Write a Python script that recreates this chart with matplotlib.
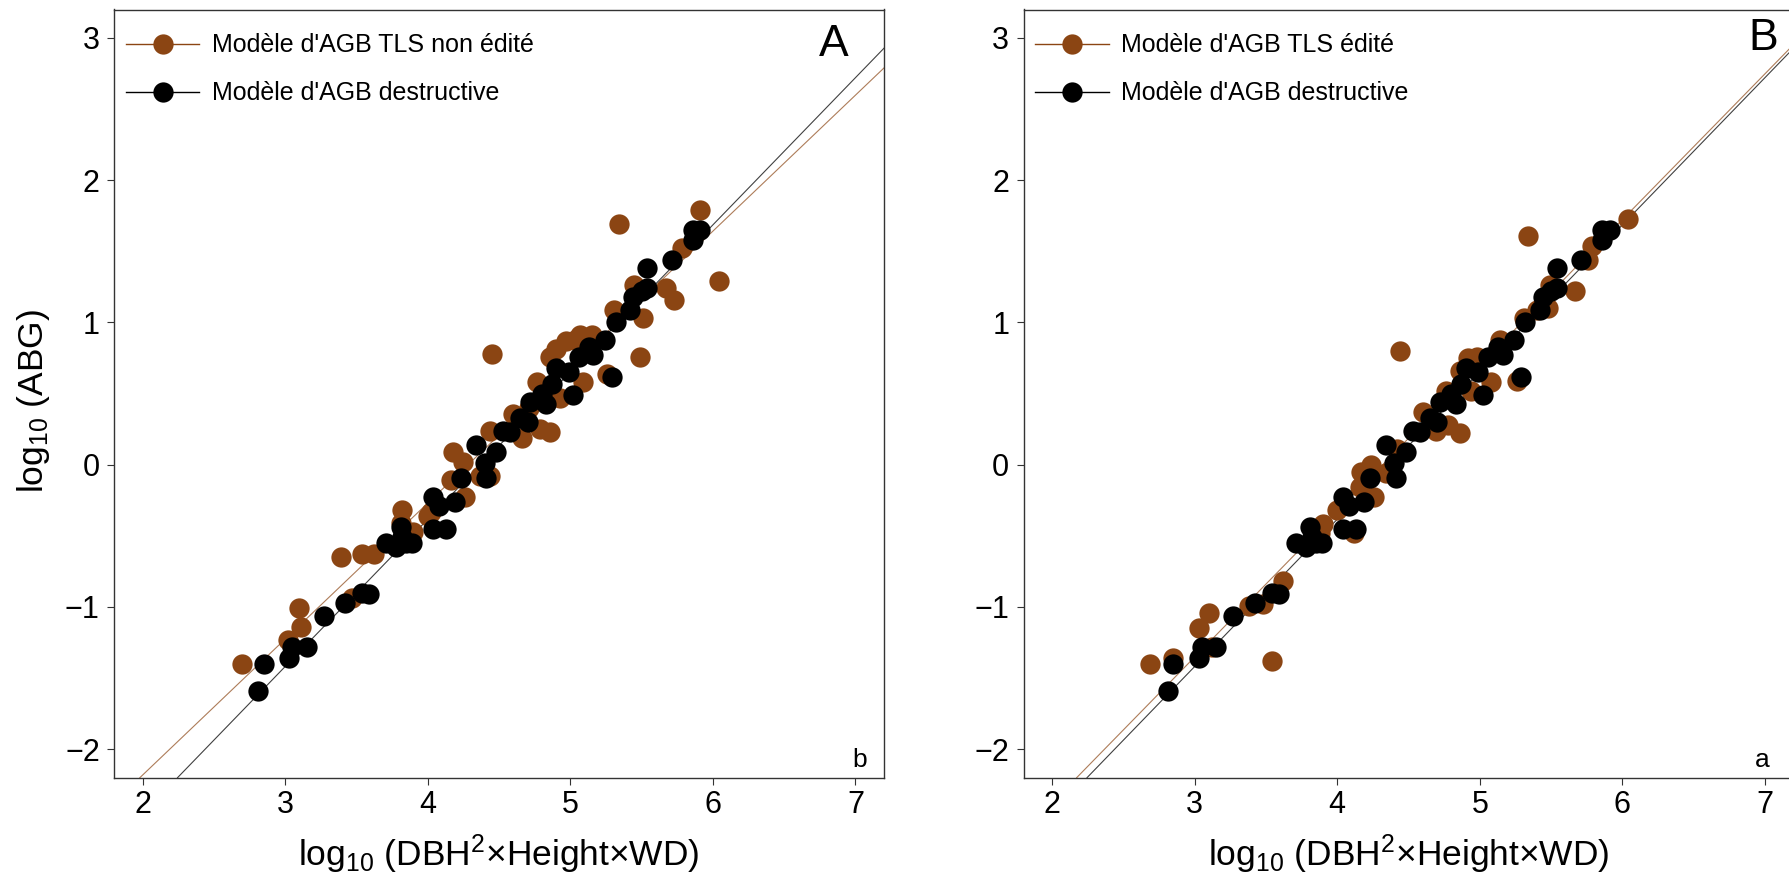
import numpy as np
import matplotlib
matplotlib.use("Agg")
import matplotlib.pyplot as plt
from matplotlib.lines import Line2D

plt.rcParams["font.family"] = ["Liberation Sans", "DejaVu Sans"]
plt.rcParams["mathtext.fontset"] = "custom"
plt.rcParams["mathtext.rm"] = "Liberation Sans"
plt.rcParams["mathtext.it"] = "Liberation Sans:italic"

# log10(DBH^2 x Height x WD) vs log10(AGB)
destructive_x = [2.81, 2.85, 3.03, 3.05, 3.15, 3.27, 3.42, 3.54, 3.59, 3.71,
                 3.78, 3.81, 3.82, 3.85, 3.89, 4.04, 4.04, 4.08, 4.13, 4.19,
                 4.23, 4.34, 4.40, 4.41, 4.48, 4.53, 4.58, 4.65, 4.70, 4.72,
                 4.80, 4.83, 4.87, 4.90, 4.99, 5.02, 5.06, 5.13, 5.16, 5.24,
                 5.29, 5.32, 5.42, 5.44, 5.50, 5.54, 5.54, 5.71, 5.86, 5.86,
                 5.91]
destructive_y = [-1.59, -1.40, -1.36, -1.28, -1.28, -1.06, -0.97, -0.90, -0.91, -0.55,
                 -0.58, -0.44, -0.51, -0.55, -0.55, -0.23, -0.45, -0.29, -0.45, -0.26,
                 -0.09, 0.14, 0.01, -0.09, 0.09, 0.24, 0.23, 0.33, 0.30, 0.44,
                 0.50, 0.43, 0.57, 0.68, 0.65, 0.49, 0.76, 0.83, 0.77, 0.88,
                 0.62, 1.00, 1.09, 1.18, 1.22, 1.24, 1.38, 1.44, 1.58, 1.65,
                 1.65]

tls_raw_x = [2.70, 3.02, 3.10, 3.11, 3.39, 3.47, 3.54, 3.62, 3.81, 3.82,
             3.90, 4.00, 4.02, 4.16, 4.18, 4.25, 4.26, 4.37, 4.44, 4.44,
             4.45, 4.60, 4.66, 4.71, 4.77, 4.79, 4.86, 4.86, 4.90, 4.93,
             4.97, 5.03, 5.07, 5.09, 5.15, 5.26, 5.31, 5.34, 5.45, 5.49,
             5.51, 5.67, 5.73, 5.78, 5.91, 6.04]
tls_raw_y = [-1.40, -1.23, -1.01, -1.14, -0.65, -0.94, -0.63, -0.63, -0.41, -0.32,
             -0.47, -0.36, -0.33, -0.11, 0.09, 0.02, -0.23, -0.08, -0.08, 0.24,
             0.78, 0.36, 0.19, 0.40, 0.58, 0.25, 0.23, 0.76, 0.81, 0.47,
             0.87, 0.88, 0.91, 0.58, 0.91, 0.64, 1.09, 1.69, 1.26, 0.76,
             1.03, 1.24, 1.16, 1.52, 1.79, 1.29]

tls_edit_x = [2.69, 2.85, 3.03, 3.10, 3.12, 3.38, 3.48, 3.54, 3.62, 3.88,
              3.90, 4.00, 4.12, 4.16, 4.17, 4.24, 4.26, 4.34, 4.42, 4.44,
              4.60, 4.69, 4.76, 4.78, 4.86, 4.86, 4.92, 4.94, 4.98, 5.08,
              5.14, 5.26, 5.31, 5.34, 5.40, 5.48, 5.49, 5.67, 5.76, 5.79,
              6.04]
tls_edit_y = [-1.40, -1.36, -1.15, -1.04, -1.28, -0.99, -0.98, -1.38, -0.82, -0.48,
              -0.42, -0.32, -0.48, -0.16, -0.05, 0.00, -0.23, -0.06, 0.11, 0.80,
              0.37, 0.24, 0.52, 0.28, 0.22, 0.66, 0.75, 0.52, 0.76, 0.58,
              0.88, 0.59, 1.03, 1.61, 1.09, 1.10, 1.26, 1.22, 1.44, 1.54,
              1.73]

# fitted lines: (intercept, slope)
fit_raw = (-4.094, 0.956)
fit_edit = (-4.427, 1.025)
fit_destructive = (-4.524, 1.035)

labels_tls = ["Modèle d'AGB TLS non édité", "Modèle d'AGB TLS édité"]
label_destr = "Modèle d'AGB destructive"
panel_letters = ["A", "B"]
corner_letters = ["b", "a"]
x_ticks = [2, 3, 4, 5, 6, 7]
y_ticks = [-2, -1, 0, 1, 2, 3]

BROWN = "#8B4513"
W, H = 1789, 874
fig = plt.figure(figsize=(W / 100, H / 100), dpi=100)

ax_bottom = (H - 777.7) / H
ax_height = 768.2 / H
ax_width = 770 / W
axA = fig.add_axes([114 / W, ax_bottom, ax_width, ax_height])
axB = fig.add_axes([1023.5 / W, ax_bottom, ax_width, ax_height])

panels = [
    (axA, tls_raw_x, tls_raw_y, fit_raw, labels_tls[0]),
    (axB, tls_edit_x, tls_edit_y, fit_edit, labels_tls[1]),
]
letter_pos = [(6.85, 2.873), (6.99, 2.915)]
corner_pos = [(7.03, -2.125), (6.98, -2.125)]

msize = 14.6
for i, (ax, tx, ty, fit, lab) in enumerate(panels):
    ax.set_xlim(1.8, 7.2)
    ax.set_ylim(-2.2, 3.2)
    ax.axline((0, fit[0]), slope=fit[1], color=BROWN, lw=0.8, alpha=0.7, zorder=1)
    ax.axline((0, fit_destructive[0]), slope=fit_destructive[1], color="black",
              lw=0.8, alpha=0.75, zorder=1)
    ax.scatter(tx, ty, s=msize ** 2, color=BROWN, linewidths=0, zorder=2)
    ax.scatter(destructive_x, destructive_y, s=msize ** 2, color="black",
               linewidths=0, zorder=3)

    ax.set_xticks(x_ticks)
    ax.set_yticks(y_ticks)
    ax.set_yticklabels([str(v).replace("-", "\u2212") for v in y_ticks])
    ax.tick_params(axis="both", direction="out", length=5.2, width=0.8,
                   labelsize=22, pad=3.6, color="#333333")
    ax.tick_params(axis="y", pad=5)
    for sp in ax.spines.values():
        sp.set_linewidth(1.0)
        sp.set_color("#333333")

    handles = [
        Line2D([], [], color=BROWN, lw=1.0, marker="o", ms=msize,
               mfc=BROWN, mec="none"),
        Line2D([], [], color="black", lw=1.0, marker="o", ms=msize,
               mfc="black", mec="none"),
    ]
    ax.legend(handles, [lab, label_destr], loc="upper left",
              bbox_to_anchor=(0.0155, 0.969), frameon=False, fontsize=18,
              handlelength=2.93, handletextpad=0.5, labelspacing=0.96,
              borderpad=0, borderaxespad=0)

    ax.text(letter_pos[i][0], letter_pos[i][1], panel_letters[i], fontsize=32,
            ha="center", va="baseline")
    ax.text(corner_pos[i][0], corner_pos[i][1], corner_letters[i], fontsize=19,
            ha="center", va="baseline")

    ax.set_xlabel(r"$\mathregular{log_{10}}$ (DBH$^{\mathregular{2}}$×Height×WD)",
                  fontsize=25.5)
    ax.xaxis.label.set_va("baseline")
    ax.xaxis.set_label_coords(0.5, (777.7 - 865.5) / 768.2)

axA.set_ylabel(r"$\mathregular{log_{10}}$ (ABG)", fontsize=25.5)
axA.yaxis.label.set_va("baseline")
axA.yaxis.set_label_coords((42.5 - 114) / 770, 0.49)

fig.savefig("out.png", dpi=100)
